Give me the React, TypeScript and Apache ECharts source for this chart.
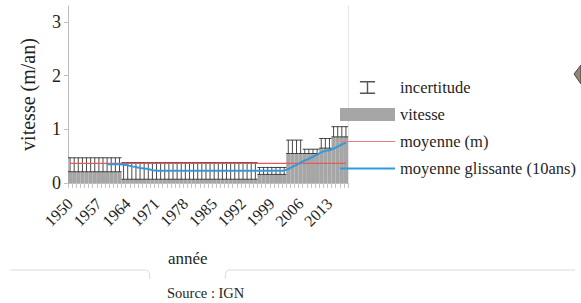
import React, { useEffect, useRef } from "react";
import * as echarts from "echarts";

// ---- data ----
const firstYear = 1950;
const lastYear = 2017;
const years: string[] = [];
for (let y = firstYear; y <= lastYear; y++) years.push(String(y));

// measurement periods (vitesse = lower bound drawn in grey, incertitude up to high)
const periodStart = [1950, 1963, 1996, 2003, 2007, 2011, 2014];
const periodEnd = [1962, 1995, 2002, 2006, 2010, 2013, 2017];
const vitessePeriod = [0.21, 0.07, 0.16, 0.55, 0.55, 0.65, 0.86];
const incertitudeHigh = [0.47, 0.38, 0.29, 0.8, 0.63, 0.83, 1.05];

const moyenneValue = 0.365;

// moyenne glissante (10 ans), from 1959 to 2017
const glissanteStart = 1959;
const glissante = [
  0.35, 0.35, 0.35, 0.35,
  0.34, 0.33, 0.31, 0.3, 0.28, 0.27, 0.26, 0.24, 0.23,
  0.23, 0.23, 0.23, 0.23, 0.23, 0.23, 0.23, 0.23, 0.23, 0.23,
  0.23, 0.23, 0.23, 0.23, 0.23, 0.23, 0.23, 0.23, 0.23, 0.23,
  0.23, 0.23, 0.23, 0.23, 0.23, 0.23, 0.23, 0.23, 0.23, 0.23, 0.23,
  0.26, 0.3, 0.34, 0.38, 0.42, 0.45, 0.49, 0.53, 0.57, 0.6, 0.61, 0.64, 0.68, 0.72, 0.75,
];

const yTicks = [0, 1, 2, 3];

// ---- build per-year series ----
const vitesseData: number[] = [];
const errData: number[][] = [];
years.forEach((ys, i) => {
  const y = Number(ys);
  const p = periodStart.findIndex((s, k) => y >= s && y <= periodEnd[k]);
  vitesseData.push(vitessePeriod[p]);
  errData.push([i, vitessePeriod[p], incertitudeHigh[p]]);
});
const moyenneData = years.map(() => moyenneValue);
const glissanteData = years.map((ys) => {
  const k = Number(ys) - glissanteStart;
  return k >= 0 && k < glissante.length ? glissante[k] : null;
});

const SERIF = "'Liberation Serif', 'Times New Roman', serif";
const TXT = "#1f1f1f";

export default function App() {
  const ref = useRef<HTMLDivElement>(null);
  useEffect(() => {
    if (!ref.current) return;
    const chart = echarts.init(ref.current, null, { renderer: "svg" });
    const option: any = {
      animation: false,
      backgroundColor: "#ffffff",
      grid: { left: 68, right: 233, top: 6, bottom: 120, containLabel: false },
      legend: {
        orient: "vertical",
        left: 340,
        top: 79,
        padding: 0,
        itemWidth: 55,
        itemHeight: 13,
        itemGap: 10,
        selectedMode: false,
        textStyle: { fontFamily: SERIF, fontSize: 16.5, color: TXT },
        data: [
          {
            name: "incertitude",
            icon: "path://M0,0h14v1.3h-14z M6.35,0h1.3v12h-1.3z M0,10.7h14v1.3h-14z",
            itemStyle: { color: "#555555" },
          },
          { name: "vitesse", icon: "rect", itemStyle: { color: "#a6a6a6" } },
          { name: "moyenne (m)", icon: "path://M0,0h50v1h-50z", itemStyle: { color: "#f07b7b" } },
          { name: "moyenne glissante (10ans)", icon: "path://M0,0h50v2h-50z", itemStyle: { color: "#3399dd" } },
        ],
      },
      xAxis: {
        type: "category",
        data: years,
        boundaryGap: true,
        axisLine: { show: true, lineStyle: { color: "#bdbdbd", width: 1 } },
        axisTick: { show: true, interval: 0, length: 5, lineStyle: { color: "#c4c4c4" } },
        axisLabel: {
          interval: 6,
          rotate: 45,
          margin: 18,
          fontFamily: SERIF,
          fontSize: 16,
          color: TXT,
        },
        splitLine: { show: false },
      },
      yAxis: [
        {
          type: "value",
          min: 0,
          max: 3.3,
          interval: 1,
          name: "vitesse (m/an)",
          nameLocation: "middle",
          nameGap: 30,
          nameTextStyle: { fontFamily: SERIF, fontSize: 20, color: TXT },
          axisLine: { show: true, lineStyle: { color: "#bdbdbd" } },
          axisTick: { show: true, length: 4, customValues: yTicks, lineStyle: { color: "#bdbdbd" } },
          axisLabel: {
            customValues: yTicks,
            margin: 7,
            fontFamily: SERIF,
            fontSize: 18,
            color: TXT,
            formatter: (v: number) => (v > 3 ? "" : String(v)),
          },
          splitLine: { show: false },
        },
        {
          type: "value",
          min: 0,
          max: 3.3,
          interval: 1,
          position: "right",
          axisLine: { show: true, lineStyle: { color: "#e4e4e4" } },
          axisTick: { show: false },
          axisLabel: { show: false },
          splitLine: { show: false },
        },
      ],
      series: [
        {
          name: "vitesse",
          type: "bar",
          data: vitesseData,
          barCategoryGap: "0%",
          itemStyle: { color: "#a6a6a6" },
          z: 1,
        },
        {
          name: "incertitude",
          type: "custom",
          data: errData,
          itemStyle: { color: "#555555" },
          z: 3,
          renderItem: (params: any, api: any) => {
            const xi = api.value(0);
            const lo = api.coord([xi, api.value(1)]);
            const hi = api.coord([xi, api.value(2)]);
            const bw = api.size([1, 0])[0];
            const st = { stroke: "#3c3c3c", lineWidth: 1 };
            return {
              type: "group",
              children: [
                { type: "line", shape: { x1: lo[0], y1: lo[1], x2: hi[0], y2: hi[1] }, style: { stroke: "#4a4a4a", lineWidth: 1 } },
                { type: "line", shape: { x1: hi[0] - bw / 2, y1: hi[1], x2: hi[0] + bw / 2, y2: hi[1] }, style: st },
                { type: "line", shape: { x1: lo[0] - bw / 2, y1: lo[1], x2: lo[0] + bw / 2, y2: lo[1] }, style: st },
              ],
            };
          },
        },
        {
          name: "moyenne (m)",
          type: "line",
          data: moyenneData,
          symbol: "none",
          lineStyle: { color: "#e8585a", width: 1.2 },
          itemStyle: { color: "#f07b7b" },
          z: 4,
        },
        {
          name: "moyenne glissante (10ans)",
          type: "line",
          data: glissanteData,
          symbol: "none",
          connectNulls: false,
          lineStyle: { color: "#3399dd", width: 2 },
          itemStyle: { color: "#3399dd" },
          z: 5,
        },
      ],
      graphic: [
        {
          type: "polyline",
          shape: { points: [[10, 270], [147, 270], [149, 272], [150, 279]] },
          style: { stroke: "#dcdcdc", lineWidth: 1, fill: null },
          silent: true,
        },
        {
          type: "polyline",
          shape: { points: [[225, 279], [226, 272], [228, 270], [575, 270]] },
          style: { stroke: "#dcdcdc", lineWidth: 1, fill: null },
          silent: true,
        },
        {
          type: "text",
          left: 168,
          top: 250,
          style: { text: "année", fontFamily: SERIF, fontSize: 17, fill: TXT },
        },
        {
          type: "text",
          left: 167,
          top: 285,
          style: { text: "Source : IGN", fontFamily: SERIF, fontSize: 14.5, fill: TXT },
        },
        {
          type: "polygon",
          shape: { points: [[574, 74], [581, 65], [581, 84]] },
          style: { fill: "#8e8676", stroke: "#4a463e", lineWidth: 1 },
          silent: true,
        },
      ],
    };
    chart.setOption(option);
    return () => chart.dispose();
  }, []);
  return (
    <div
      ref={ref}
      style={{ position: "absolute", left: 0, top: 0, width: 581, height: 303 }}
    />
  );
}
